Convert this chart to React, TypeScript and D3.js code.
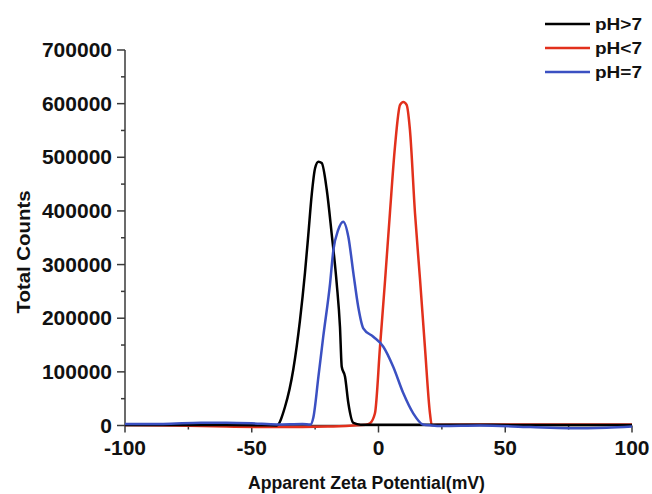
import React from "react";
import * as d3 from "d3";

const xTicks = [-100, -50, 0, 50, 100];
const yTicks = [0, 100000, 200000, 300000, 400000, 500000, 600000, 700000];

const seriesNames = ["pH>7", "pH<7", "pH=7"];
const seriesColors = ["#000000", "#e2301c", "#3b50c2"];

const blackX = [-100, -80, -60, -45, -40.2, -36.9, -33.6, -31.0, -29.0, -27.7, -26.35, -25.0, -23.7, -22.4, -20.4, -18.5, -16.5, -15.2, -14.5, -13.2, -11.9, -9.9, -7, -3, 5, 15, 20, 30, 60, 100];
const blackY = [1000, 1000, 1000, 500, 0, 34500, 105000, 195000, 285000, 355000, 430000, 480000, 491800, 489300, 439000, 358800, 265600, 184200, 109600, 91000, 42000, 4700, 1500, 1500, 1500, 1500, 1500, 1500, 1000, 1000];

const redX = [-100, -80, -60, -40, -20, -10, -5, -3.35, -1.4, 0.6, 2.6, 4.5, 6.5, 8.5, 9.8, 11.1, 12.4, 14.4, 16.4, 18.3, 20.3, 21.0, 25, 40, 60, 80, 100];
const redY = [1000, 0, -2000, -3000, -2000, 0, 1500, 4100, 22700, 146900, 271200, 395600, 519800, 597500, 603000, 597500, 550900, 395600, 271200, 146900, 22700, 1000, 1500, 2000, 2000, 2000, 2000];

const blueX = [-100, -85, -70, -60, -50, -40, -30, -26.8, -25.7, -23.7, -21.8, -19.1, -17.8, -15.9, -13.9, -11.9, -9.9, -8.0, -6.0, -2.05, 1.9, 5.8, 9.8, 13.7, 17.5, 21, 25, 40, 60, 75, 90, 100];
const blueY = [3000, 3000, 5000, 5000, 4000, 2000, 3000, 2000, 15000, 91000, 165500, 265000, 327000, 364500, 380000, 352000, 283700, 221500, 181200, 165500, 146900, 109600, 60000, 22700, 2000, 0, -1000, 0, -3000, -5000, -4000, -2000];

const W = 652;
const H = 494;

export default function App() {
  const x = d3.scaleLinear().domain([-100, 100]).range([125, 632]);
  const y = d3.scaleLinear().domain([0, 700000]).range([425.5, 50]);
  const line = d3
    .line<[number, number]>()
    .x((d) => x(d[0]))
    .y((d) => y(d[1]))
    .curve(d3.curveMonotoneX);

  const series = [
    { xs: blackX, ys: blackY },
    { xs: redX, ys: redY },
    { xs: blueX, ys: blueY },
  ];
  const drawOrder = [1, 0, 2];

  const xMinor = d3.range(-75, 100, 50);
  const yMinor = d3.range(50000, 700000, 100000);
  const font = "'Liberation Sans', Arial, sans-serif";
  const axisColor = "#3a3a3a";

  return (
    <svg
      width={W}
      height={H}
      style={{ position: "absolute", left: 0, top: 0, background: "#fff" }}
      fontFamily={font}
    >
      {/* axes */}
      <line x1={x(-100)} x2={x(100)} y1={y(0)} y2={y(0)} stroke={axisColor} strokeWidth={1.5} />
      <line x1={x(-100)} x2={x(-100)} y1={y(0)} y2={y(700000)} stroke={axisColor} strokeWidth={1.5} />
      {xTicks.map((t) => (
        <g key={"xt" + t}>
          <line x1={x(t)} x2={x(t)} y1={y(0)} y2={y(0) + 7} stroke={axisColor} strokeWidth={1.5} />
          <text x={x(t)} y={y(0) + 29} textAnchor="middle" fontSize={21} fontWeight="bold" fill="#111">
            {t}
          </text>
        </g>
      ))}
      {xMinor.map((t) => (
        <line key={"xm" + t} x1={x(t)} x2={x(t)} y1={y(0)} y2={y(0) + 4} stroke={axisColor} strokeWidth={1.5} />
      ))}
      {yTicks.map((t) => (
        <g key={"yt" + t}>
          <line x1={x(-100) - 8} x2={x(-100)} y1={y(t)} y2={y(t)} stroke={axisColor} strokeWidth={1.5} />
          <text x={x(-100) - 13} y={y(t) + 7} textAnchor="end" fontSize={21} fontWeight="bold" fill="#111">
            {t}
          </text>
        </g>
      ))}
      {yMinor.map((t) => (
        <line key={"ym" + t} x1={x(-100) - 4} x2={x(-100)} y1={y(t)} y2={y(t)} stroke={axisColor} strokeWidth={1.5} />
      ))}

      {/* titles */}
      <text
        x={366.5}
        y={489}
        textAnchor="middle"
        fontSize={19}
        fontWeight="bold"
        fill="#111"
        textLength={237}
        lengthAdjust="spacingAndGlyphs"
      >
        Apparent Zeta Potential(mV)
      </text>
      <text
        transform={`translate(30, 252) rotate(-90)`}
        textAnchor="middle"
        fontSize={19}
        fontWeight="bold"
        fill="#111"
        textLength={123}
        lengthAdjust="spacingAndGlyphs"
      >
        Total Counts
      </text>

      {/* curves */}
      {drawOrder.map((i) => {
        const s = series[i];
        const pts = s.xs.map((v, k) => [v, s.ys[k]] as [number, number]);
        return (
          <path
            key={"s" + i}
            d={line(pts) || ""}
            fill="none"
            stroke={seriesColors[i]}
            strokeWidth={2.5}
            strokeLinejoin="round"
          />
        );
      })}

      {/* legend */}
      {seriesNames.map((n, i) => (
        <g key={"lg" + i}>
          <line x1={545} x2={590} y1={24 + i * 24} y2={24 + i * 24} stroke={seriesColors[i]} strokeWidth={2.5} />
          <text
            x={595}
            y={30 + i * 24}
            fontSize={17}
            fontWeight="bold"
            fill="#111"
            textLength={47}
            lengthAdjust="spacingAndGlyphs"
          >
            {n}
          </text>
        </g>
      ))}
    </svg>
  );
}
